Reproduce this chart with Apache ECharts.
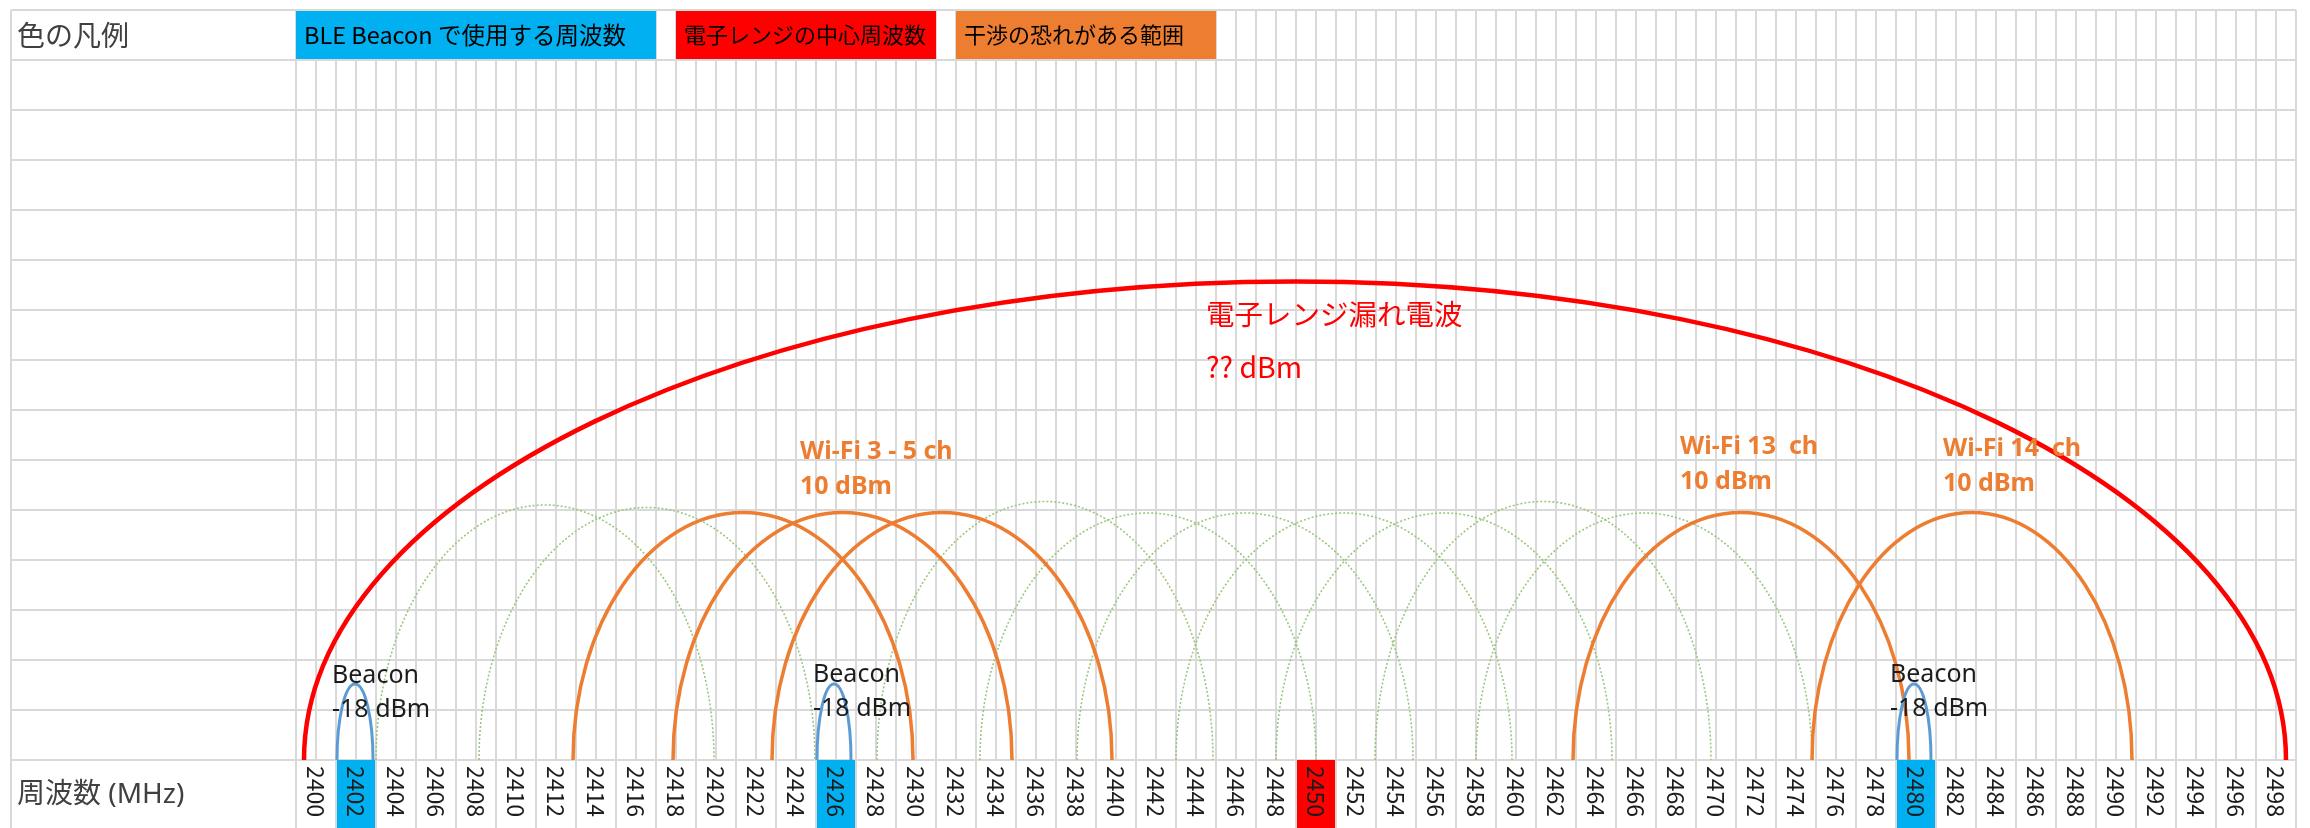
<!DOCTYPE html>
<html>
<head>
<meta charset="utf-8">
<script src="https://cdn.jsdelivr.net/npm/echarts@6/dist/echarts.min.js"></script>
<style>
  html, body { margin: 0; padding: 0; background: #fff; }
  #main { width: 2310px; height: 828px; }
</style>
</head>
<body>
<div id="main"></div>
<script>
// 周波数ラベル (2MHz ごとのセル)
const freqLabels = ['2400', '2402', '2404', '2406', '2408', '2410', '2412', '2414', '2416', '2418',
  '2420', '2422', '2424', '2426', '2428', '2430', '2432', '2434', '2436', '2438',
  '2440', '2442', '2444', '2446', '2448', '2450', '2452', '2454', '2456', '2458',
  '2460', '2462', '2464', '2466', '2468', '2470', '2472', '2474', '2476', '2478',
  '2480', '2482', '2484', '2486', '2488', '2490', '2492', '2494', '2496', '2498'];
const beaconCells = ['2402', '2426', '2480'];
const ovenCells = ['2450'];

// 凡例セル [開始MHz, 終了MHz]
const legendNames = ['BLE Beacon で使用する周波数', '電子レンジの中心周波数', '干渉の恐れがある範囲'];
const legendColors = ['#00B0F0', '#FF0000', '#ED7D31'];
const legendSpans = [[2399, 2417], [2418, 2431], [2432, 2445]];

// 円弧 [左端MHz, 右端MHz, 高さ(行数)]
const beaconArcs = [[2401.05, 2402.85, 1.52], [2425.05, 2426.75, 1.52], [2479.05, 2480.75, 1.52]];
const wifiArcs = [[2412.85, 2429.85, 4.95], [2417.85, 2434.8, 4.95], [2422.8, 2439.8, 4.95],
  [2462.85, 2479.65, 4.95], [2474.8, 2490.8, 4.95]];
const otherWifiArcs = [[2403.0, 2419.9, 5.1], [2408.15, 2424.95, 5.05], [2428.05, 2444.85, 5.17],
  [2433.2, 2450.0, 4.94], [2438.05, 2454.85, 4.94], [2443.0, 2459.8, 4.94], [2448.0, 2464.8, 4.94],
  [2452.95, 2469.75, 5.17], [2458.0, 2474.8, 4.94]];
const ovenArc = [[2399.4, 2498.5, 9.57]];

// 注記 [x(MHz), y(行), テキスト]
const beaconNotes = [[2400.8, 2.02, 'Beacon\n-18 dBm'], [2424.85, 2.04, 'Beacon\n-18 dBm'], [2478.7, 2.04, 'Beacon\n-18 dBm']];
const wifiNotes = [[2424.2, 6.52, 'Wi-Fi 3 - 5 ch\n10 dBm'], [2468.2, 6.61, 'Wi-Fi 13  ch\n10 dBm'], [2481.35, 6.57, 'Wi-Fi 14  ch\n10 dBm']];
const ovenNotes = [[2444.5, 9.45, '電子レンジ漏れ電波\n?? dBm']];

const legendTitle = '色の凡例';
const axisTitle = '周波数 (MHz)';

const gridColor = '#D9D9D9';
const jp = '"Noto Sans CJK JP", "Noto Sans", sans-serif';
const latinJp = '"Noto Sans", "Noto Sans CJK JP", sans-serif';

const myChart = echarts.init(document.getElementById('main'));

// 半楕円の円弧を描く
function arcSeries(arcs, color, width, dash, z) {
  return {
    type: 'custom',
    xAxisIndex: 0,
    yAxisIndex: 0,
    z: z,
    silent: true,
    encode: { x: [0, 1], y: 2 },
    data: arcs,
    renderItem: function (params, api) {
      const a = api.coord([api.value(0), 0]);
      const b = api.coord([api.value(1), 0]);
      const t = api.coord([(api.value(0) + api.value(1)) / 2, api.value(2)]);
      const k = 0.5523;
      const h = a[1] - t[1];
      const rx = (b[0] - a[0]) / 2;
      const cx = t[0];
      const d = 'M' + a[0] + ',' + a[1] +
        ' C' + a[0] + ',' + (a[1] - h * k) + ' ' + (cx - rx * k) + ',' + t[1] + ' ' + cx + ',' + t[1] +
        ' C' + (cx + rx * k) + ',' + t[1] + ' ' + b[0] + ',' + (a[1] - h * k) + ' ' + b[0] + ',' + a[1];
      return {
        type: 'path',
        shape: { pathData: d },
        style: { stroke: color, fill: 'none', lineWidth: width, lineDash: dash || null }
      };
    }
  };
}

function noteSeries(notes, color, font, lineHeight) {
  return {
    type: 'custom',
    xAxisIndex: 0,
    yAxisIndex: 0,
    z: 20,
    silent: true,
    data: notes,
    renderItem: function (params, api) {
      const p = api.coord([api.value(0), api.value(1)]);
      return {
        type: 'text',
        x: p[0],
        y: p[1],
        style: {
          text: notes[params.dataIndex][2],
          fill: color,
          font: font,
          lineHeight: lineHeight,
          align: 'left',
          verticalAlign: 'top'
        }
      };
    }
  };
}

const option = {
  backgroundColor: '#fff',
  animation: false,
  grid: [
    { left: 296, top: 10, width: 2000, height: 750 },
    { left: 11, top: 10, width: 285, height: 750 },
    { left: 296, top: 760, width: 2000, height: 70 },
    { left: 11, top: 760, width: 285, height: 70 }
  ],
  xAxis: [
    {
      gridIndex: 0, type: 'value', min: 2399, max: 2499, interval: 1,
      axisLine: { show: false }, axisTick: { show: false }, axisLabel: { show: false },
      splitLine: { show: true, lineStyle: { color: gridColor, width: 2 } }
    },
    {
      gridIndex: 1, type: 'value', min: 0, max: 1, interval: 1,
      axisLine: { show: false }, axisTick: { show: false }, axisLabel: { show: false },
      splitLine: { show: true, lineStyle: { color: gridColor, width: 2 } }
    },
    {
      gridIndex: 2, type: 'category', data: freqLabels, position: 'top', boundaryGap: true, z: 10,
      axisLine: { show: false }, axisTick: { show: false },
      axisLabel: {
        interval: 0, inside: true, rotate: -90, margin: 6, align: 'left', verticalAlign: 'middle',
        fontSize: 23, fontFamily: jp, color: '#1c1c1c'
      },
      splitLine: { show: true, interval: 0, lineStyle: { color: gridColor, width: 2 } }
    },
    {
      gridIndex: 3, type: 'value', min: 0, max: 1, interval: 1,
      axisLine: { show: false }, axisTick: { show: false }, axisLabel: { show: false },
      splitLine: { show: true, lineStyle: { color: gridColor, width: 2 } }
    }
  ],
  yAxis: [
    {
      gridIndex: 0, type: 'value', min: 0, max: 15, interval: 1,
      axisLine: { show: false }, axisTick: { show: false }, axisLabel: { show: false },
      splitLine: { show: true, lineStyle: { color: gridColor, width: 2 } }
    },
    {
      gridIndex: 1, type: 'value', min: 0, max: 15, interval: 1,
      axisLine: { show: false }, axisTick: { show: false }, axisLabel: { show: false },
      splitLine: { show: true, lineStyle: { color: gridColor, width: 2 } }
    },
    { gridIndex: 2, type: 'value', min: 0, max: 1, show: false },
    { gridIndex: 3, type: 'value', min: 0, max: 1, show: false }
  ],
  graphic: [
    {
      type: 'text', x: 17, y: 35, z: 30,
      style: { text: legendTitle, font: '28px ' + jp, fill: '#404040', verticalAlign: 'middle', textVerticalAlign: 'middle' }
    },
    {
      type: 'text', x: 17, y: 795, z: 30,
      style: { text: axisTitle, font: '28px ' + latinJp, fill: '#404040', verticalAlign: 'middle', textVerticalAlign: 'middle' }
    }
  ],
  series: [
    // 周波数セルの色付け
    {
      type: 'bar',
      xAxisIndex: 2,
      yAxisIndex: 2,
      barWidth: '100%',
      silent: true,
      data: freqLabels.map(function (f) {
        if (beaconCells.indexOf(f) >= 0) return { value: 1, itemStyle: { color: '#00B0F0' } };
        if (ovenCells.indexOf(f) >= 0) return { value: 1, itemStyle: { color: '#FF0000' } };
        return null;
      })
    },
    // 凡例セル
    {
      type: 'custom',
      xAxisIndex: 0,
      yAxisIndex: 0,
      z: 5,
      silent: true,
      encode: { x: [0, 1] },
      data: legendSpans,
      renderItem: function (params, api) {
        const p0 = api.coord([api.value(0), 15]);
        const p1 = api.coord([api.value(1), 14]);
        const size = params.dataIndex === 0 ? 23.5 : 22;
        return {
          type: 'group',
          children: [
            {
              type: 'rect',
              shape: { x: p0[0], y: p0[1] + 1, width: p1[0] - p0[0], height: p1[1] - p0[1] - 2 },
              style: { fill: legendColors[params.dataIndex] }
            },
            {
              type: 'text',
              x: p0[0] + 8,
              y: (p0[1] + p1[1]) / 2,
              style: {
                text: legendNames[params.dataIndex], fill: '#000', font: size + 'px ' + jp,
                align: 'left', verticalAlign: 'middle'
              }
            }
          ]
        };
      }
    },
    arcSeries(otherWifiArcs, '#9BC77E', 1.6, [2, 2], 6),
    arcSeries(wifiArcs, '#ED7D31', 3.5, null, 7),
    arcSeries(ovenArc, '#FF0000', 4.5, null, 8),
    arcSeries(beaconArcs, '#5B9BD5', 3, null, 9),
    noteSeries(beaconNotes, '#1c1c1c', '25px "Noto Sans", sans-serif', 34),
    noteSeries(wifiNotes, '#ED7D31', 'bold 25px "Noto Sans", sans-serif', 35),
    noteSeries(ovenNotes, '#FF0000', '28.5px ' + jp, 53)
  ]
};

myChart.setOption(option);
</script>
</body>
</html>
